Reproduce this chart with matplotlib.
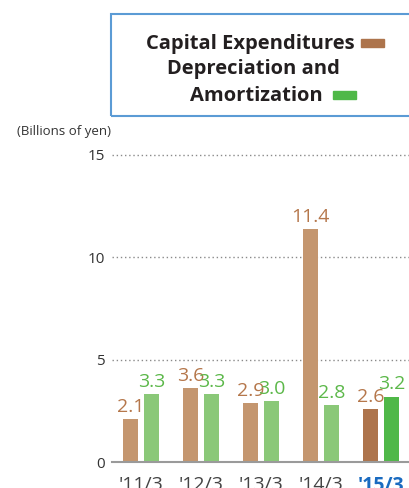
import matplotlib
matplotlib.use("Agg")
import matplotlib.pyplot as plt
from matplotlib.patches import Rectangle
import numpy as np

plt.rcParams['font.family'] = ['Open Sans', 'DejaVu Sans']

# Fiscal years and values (billions of yen)
years = ["'11/3", "'12/3", "'13/3", "'14/3", "'15/3"]
capex = [2.1, 3.6, 2.9, 11.4, 2.6]
depreciation = [3.3, 3.3, 3.0, 2.8, 3.2]
yticks = [0, 5, 10, 15]

capex_col = ["#c4966f"] * 4 + ["#ad744c"]
dep_col = ["#8ac878"] * 4 + ["#4fb848"]
capex_txt = "#b5774b"
dep_txt = "#5cb84a"

W, H = 409, 488
fig = plt.figure(figsize=(W / 100, H / 100), dpi=100)
ax = fig.add_axes([112 / W, 26 / H, 297 / W, 307 / H])

x = np.arange(len(years))
bw = 0.25
off = 0.175
ax.bar(x - off, capex, bw, color=capex_col, zorder=3)
ax.bar(x + off, depreciation, bw, color=dep_col, zorder=3)

for xi, v in zip(x, capex):
    ax.text(xi - off, v + 0.15, f"{v:.1f}", ha='center', va='bottom',
            fontsize=14, color=capex_txt, zorder=4)
for xi, v in zip(x, depreciation):
    ax.text(xi + off, v + 0.15, f"{v:.1f}", ha='center', va='bottom',
            fontsize=14, color=dep_txt, zorder=4)

ax.set_xlim(-0.483, 4.467)
ax.set_ylim(0, 15)
for s in ax.spines.values():
    s.set_visible(False)
for v in yticks[1:]:
    ax.axhline(v, color="#8a8a8a", lw=1.0, ls=(0, (1, 2)), zorder=1, clip_on=False)
ax.axhline(0, color="#9a9a9a", lw=1.5, zorder=5, clip_on=False)

ax.set_yticks(yticks)
ax.set_yticklabels([str(v) for v in yticks], fontsize=11, color="#333333")
ax.set_xticks(x)
ax.set_xticklabels(years, fontsize=14, color="#444444")
lbls = ax.get_xticklabels()
lbls[-1].set_color("#1a6bc0")
lbls[-1].set_fontweight('bold')
ax.tick_params(axis='both', length=0)
ax.tick_params(axis='y', pad=5)
ax.tick_params(axis='x', pad=10)

fig.text(17 / W, 1 - 131 / H, "(Billions of yen)", fontsize=9.5,
         color="#333333", ha='left', va='center')

# legend box
fig.patches.append(Rectangle((111 / W, 1 - 116 / H), 320 / W, 102 / H,
                             transform=fig.transFigure, fill=False,
                             edgecolor="#5b9bd5", lw=1.5))
lkw = dict(fontsize=14.5, fontweight='bold', color="#231f20", va='baseline')
fig.text(355 / W, 1 - 49 / H, "Capital Expenditures", ha='right', **lkw)
fig.text(340 / W, 1 - 74 / H, "Depreciation and", ha='right', **lkw)
fig.text(323 / W, 1 - 101 / H, "Amortization", ha='right', **lkw)
fig.patches.append(Rectangle((361 / W, 1 - 47 / H), 23 / W, 8 / H,
                             transform=fig.transFigure, color="#ad744c"))
fig.patches.append(Rectangle((333 / W, 1 - 99 / H), 23 / W, 8 / H,
                             transform=fig.transFigure, color="#4fb848"))

fig.savefig("out.png", dpi=100)
